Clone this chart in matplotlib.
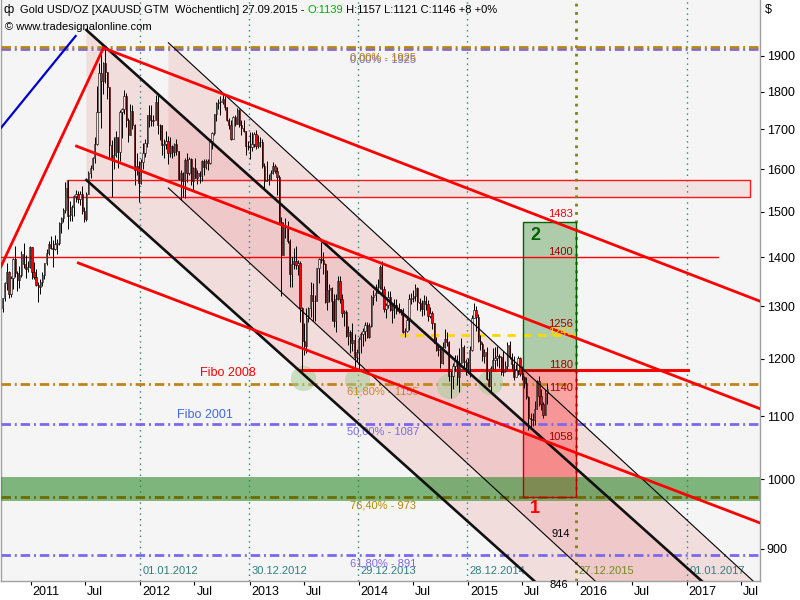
"""
    Gold weekly chart with channels and fibo levels
"""

import numpy as np
import pandas as pd
import matplotlib
matplotlib.use('AGG')
import matplotlib.pyplot as plt
import matplotlib.dates as mdates
import matplotlib.transforms as mtransforms
from matplotlib.patches import Rectangle

plt.rcParams['font.family'] = ['Liberation Sans', 'DejaVu Sans']

# weekly candles, first week starts 2010-09-27
first_week = '2010-09-27'
first_open = 1296

close_2010 = [1317, 1346, 1369, 1325, 1357, 1397, 1368, 1352, 1363, 1406, 1385, 1375, 1380, 1421]
high_2010 = [1317, 1349, 1387, 1372, 1360, 1398, 1424, 1371, 1381, 1413, 1431, 1405, 1392, 1424]
low_2010 = [1288, 1310, 1333, 1317, 1318, 1335, 1359, 1330, 1337, 1358, 1377, 1357, 1370, 1378]

close_2011 = [1369, 1359, 1343, 1339, 1349, 1362, 1387, 1410, 1429, 1420, 1418, 1428, 1430,
              1474, 1486, 1504, 1556, 1491, 1492, 1512, 1536, 1542, 1529, 1540, 1502, 1483,
              1541, 1592, 1602, 1627, 1663, 1744, 1852, 1828, 1880, 1855, 1813, 1660, 1624,
              1636, 1681, 1642, 1744, 1753, 1788, 1724, 1685, 1747, 1712, 1598, 1607, 1566]
high_2011 = [1423, 1391, 1376, 1348, 1354, 1370, 1389, 1418, 1436, 1445, 1437, 1448, 1440,
             1476, 1488, 1508, 1569, 1575, 1524, 1515, 1538, 1550, 1549, 1547, 1560, 1510,
             1545, 1595, 1610, 1630, 1681, 1814, 1880, 1912, 1882, 1921, 1844, 1813, 1672,
             1681, 1695, 1681, 1750, 1756, 1803, 1796, 1730, 1765, 1763, 1714, 1640, 1621]
low_2011 = [1354, 1354, 1340, 1309, 1325, 1340, 1355, 1383, 1404, 1417, 1380, 1416, 1407,
            1427, 1452, 1478, 1497, 1462, 1480, 1479, 1490, 1522, 1520, 1516, 1495, 1478,
            1480, 1540, 1580, 1598, 1614, 1660, 1744, 1703, 1793, 1823, 1779, 1627, 1534,
            1600, 1631, 1603, 1620, 1678, 1740, 1705, 1667, 1684, 1700, 1563, 1586, 1523]

close_2012 = [1617, 1640, 1664, 1736, 1724, 1722, 1725, 1772, 1710, 1711, 1659, 1662, 1669,
              1640, 1658, 1642, 1663, 1645, 1577, 1590, 1572, 1622, 1591, 1625, 1572, 1604,
              1579, 1590, 1584, 1619, 1606, 1620, 1615, 1670, 1691, 1740, 1769, 1773, 1773,
              1781, 1757, 1724, 1712, 1676, 1731, 1714, 1751, 1711, 1702, 1696, 1657, 1657, 1656]
high_2012 = [1625, 1666, 1676, 1736, 1764, 1763, 1737, 1790, 1792, 1713, 1712, 1674, 1696,
             1683, 1679, 1660, 1666, 1676, 1645, 1597, 1594, 1627, 1641, 1630, 1628, 1605,
             1628, 1598, 1596, 1622, 1625, 1624, 1626, 1674, 1693, 1741, 1772, 1779, 1787,
             1796, 1788, 1755, 1729, 1725, 1735, 1737, 1755, 1754, 1723, 1723, 1696, 1670, 1693]
low_2012 = [1565, 1600, 1631, 1655, 1707, 1708, 1709, 1723, 1688, 1672, 1636, 1627, 1651,
            1612, 1630, 1627, 1633, 1635, 1575, 1527, 1533, 1532, 1570, 1586, 1562, 1547,
            1578, 1565, 1568, 1572, 1587, 1600, 1598, 1613, 1651, 1685, 1722, 1753, 1738,
            1765, 1750, 1721, 1701, 1672, 1675, 1708, 1714, 1705, 1685, 1692, 1636, 1647, 1626]

close_2013 = [1662, 1687, 1658, 1667, 1667, 1609, 1572, 1573, 1577, 1592, 1608, 1596, 1581,
              1476, 1405, 1467, 1469, 1435, 1364, 1386, 1392, 1383, 1387, 1297, 1234, 1223,
              1277, 1296, 1322, 1310, 1311, 1377, 1396, 1395, 1386, 1308, 1333, 1337, 1310,
              1272, 1315, 1351, 1314, 1287, 1288, 1243, 1250, 1230, 1235, 1203, 1213, 1237]
high_2013 = [1693, 1694, 1697, 1684, 1681, 1674, 1616, 1619, 1588, 1597, 1617, 1612, 1605,
             1587, 1489, 1477, 1487, 1479, 1440, 1400, 1419, 1424, 1395, 1392, 1298, 1267,
             1297, 1299, 1349, 1347, 1323, 1377, 1398, 1433, 1412, 1387, 1374, 1345, 1338,
             1325, 1324, 1361, 1361, 1325, 1292, 1292, 1262, 1254, 1267, 1247, 1218, 1240]
low_2013 = [1644, 1656, 1650, 1652, 1655, 1604, 1554, 1571, 1562, 1575, 1588, 1590, 1539,
            1476, 1321, 1411, 1442, 1430, 1339, 1338, 1375, 1375, 1363, 1269, 1180, 1207,
            1211, 1270, 1279, 1271, 1271, 1310, 1347, 1389, 1364, 1306, 1293, 1309, 1272,
            1260, 1251, 1313, 1306, 1278, 1261, 1241, 1225, 1211, 1215, 1186, 1194, 1182]

close_2014 = [1247, 1252, 1264, 1240, 1262, 1318, 1322, 1326, 1338, 1379, 1335, 1294, 1303,
              1318, 1293, 1302, 1302, 1290, 1294, 1292, 1250, 1252, 1274, 1315, 1316, 1320,
              1337, 1309, 1307, 1295, 1311, 1305, 1280, 1287, 1267, 1230, 1216, 1218, 1192,
              1222, 1237, 1231, 1170, 1169, 1187, 1196, 1167, 1192, 1222, 1195, 1195, 1184]
high_2014 = [1251, 1257, 1270, 1270, 1268, 1322, 1332, 1345, 1355, 1384, 1392, 1340, 1306,
             1330, 1331, 1305, 1315, 1315, 1306, 1295, 1296, 1257, 1277, 1325, 1326, 1332,
             1345, 1339, 1317, 1312, 1322, 1320, 1312, 1298, 1290, 1267, 1240, 1228, 1221,
             1232, 1255, 1251, 1233, 1178, 1192, 1208, 1207, 1221, 1239, 1225, 1200, 1202]
low_2014 = [1211, 1224, 1233, 1239, 1238, 1259, 1303, 1311, 1328, 1334, 1322, 1288, 1277,
            1296, 1291, 1268, 1277, 1284, 1287, 1283, 1249, 1240, 1250, 1254, 1305, 1309,
            1310, 1292, 1290, 1281, 1283, 1292, 1272, 1276, 1255, 1229, 1215, 1205, 1183,
            1191, 1221, 1224, 1161, 1131, 1146, 1179, 1153, 1142, 1192, 1186, 1171, 1178]

close_2015 = [1216, 1277, 1293, 1279, 1234, 1227, 1205, 1213, 1164, 1152, 1183, 1199, 1201,
              1206, 1203, 1177, 1179, 1188, 1225, 1204, 1190, 1168, 1180, 1201, 1173, 1168,
              1157, 1132, 1097, 1095, 1094, 1113, 1160, 1134, 1121, 1103, 1139, 1146]
high_2015 = [1224, 1283, 1307, 1300, 1284, 1245, 1231, 1219, 1222, 1178, 1188, 1220, 1222,
             1224, 1209, 1205, 1215, 1196, 1232, 1233, 1210, 1205, 1191, 1205, 1203, 1187,
             1170, 1167, 1134, 1105, 1105, 1126, 1163, 1170, 1147, 1125, 1144, 1157]
low_2015 = [1167, 1214, 1276, 1252, 1231, 1216, 1197, 1193, 1162, 1150, 1142, 1178, 1178,
            1188, 1183, 1172, 1170, 1177, 1182, 1200, 1181, 1162, 1171, 1171, 1169, 1162,
            1148, 1130, 1077, 1080, 1084, 1086, 1112, 1117, 1110, 1098, 1102, 1121]

# drawing tools (date, price)
ch1_dates = ['2011-07-06', '2017-09-02']
ch1_upper = [1976, 792]
ch1_lower = [1574, 631]
ch2_dates = ['2012-04-05', '2017-09-02']
ch2_upper = [1938, 849]
ch2_lower = [1555, 681]

red_upper = (['2011-09-01', '2017-09-02'], [1923, 1310])
red_middle = (['2011-06-03', '2017-09-02'], [1657, 1113])
red_lower = (['2011-06-09', '2017-09-02'], [1388, 936])
red_rally = (['2010-09-23', '2011-09-01'], [1380, 1923])
blue_rally = (['2010-09-23', '2011-05-31'], [1703, 1958])

line_1400 = (['2010-09-23', '2017-04-15'], 1400)
fibo_2008 = (['2013-06-20', '2017-01-04'], 1180)
yellow_1245 = (['2014-05-19', '2015-12-31'], 1245)
zone_dates = ['2011-05-01', '2017-07-30']
zone_prices = [1534, 1574]
green_band = [967, 1003]

box_dates = ['2015-07-04', '2015-12-27']
box2_prices = [1180, 1478]
box1_prices = [973, 1180]

circle_dates = ['2013-06-30', '2013-12-27', '2014-10-30', '2015-03-16']
circle_prices = [1166, 1163, 1152, 1159]

fib_levels = [1925, 1155, 1087, 973, 891]
fib_colors = ['#b8860b', '#c08418', '#7b68ee', '#6b6b00', '#7b68ee']
fib_texts = ['0,00% - 1925', '61,80% - 1155', '50,00% - 1087', '76,40% - 973', '61,80% - 891']
fib_text_colors = ['#b8860b', '#c8862b', '#7b68ee', '#b8860b', '#7b68ee']

box_levels = [1483, 1400, 1256, 1240, 1180, 1140, 1058]
box_level_colors = ['#ff0000', '#a00000', '#a00000', '#ffd700', '#a00000', '#a00000', '#a00000']

vline_dates = ['2012-01-01', '2012-12-30', '2013-12-29', '2014-12-28', '2015-12-27', '2017-01-01']
vline_texts = ['01.01.2012', '30.12.2012', '29.12.2013', '28.12.2014', '27.12.2015', '01.01.2017']

xtick_dates = ['2011-01-01', '2011-07-01', '2012-01-01', '2012-07-01', '2013-01-01', '2013-07-01',
               '2014-01-01', '2014-07-01', '2015-01-01', '2015-07-01', '2016-01-01', '2016-07-01',
               '2017-01-01', '2017-07-01']
xtick_labels = ['2011', 'Jul', '2012', 'Jul', '2013', 'Jul', '2014', 'Jul', '2015', 'Jul',
                '2016', 'Jul', '2017', 'Jul']
yticks = [900, 1000, 1100, 1200, 1300, 1400, 1500, 1600, 1700, 1800, 1900]


def dn(s):
    return mdates.date2num(pd.Timestamp(s))


def dns(lst):
    return [dn(s) for s in lst]


def main():
    closes = np.array(close_2010 + close_2011 + close_2012 + close_2013 + close_2014 + close_2015, float)
    highs = np.array(high_2010 + high_2011 + high_2012 + high_2013 + high_2014 + high_2015, float)
    lows = np.array(low_2010 + low_2011 + low_2012 + low_2013 + low_2014 + low_2015, float)
    opens = np.concatenate([[first_open], closes[:-1]])
    highs = np.maximum(highs, np.maximum(opens, closes))
    lows = np.minimum(lows, np.minimum(opens, closes))
    weeks = pd.date_range(first_week, periods=len(closes), freq='7D') + pd.Timedelta(days=2)
    xw = mdates.date2num(weeks.to_pydatetime())

    fig = plt.figure(figsize=(8, 6), dpi=100)
    fig.patch.set_facecolor('white')
    ax = fig.add_axes([0.001, 19 / 600, 759 / 800, 581 / 600])
    ax.set_facecolor('#f5f5f5')
    ax.set_yscale('log')
    ax.set_xlim(dn('2010-09-23'), dn('2017-09-02'))
    ax.set_ylim(857, 2068)

    # channels
    ax.fill_between(dns(ch1_dates), ch1_lower, ch1_upper, color='#e05050', alpha=0.14, lw=0, zorder=1)
    ax.fill_between(dns(ch2_dates), ch2_lower, ch2_upper, color='#e05050', alpha=0.14, lw=0, zorder=1)

    # resistance zone
    zx = dns(zone_dates)
    ax.add_patch(Rectangle((zx[0], zone_prices[0]), zx[1] - zx[0], zone_prices[1] - zone_prices[0],
                           facecolor='#f3e0e0', edgecolor='#ff0000', lw=1, alpha=0.9, zorder=2))

    # target boxes
    bx = dns(box_dates)
    ax.add_patch(Rectangle((bx[0], box2_prices[0]), bx[1] - bx[0], box2_prices[1] - box2_prices[0],
                           facecolor='#5a9a50', edgecolor='none', alpha=0.45, zorder=2))
    ax.add_patch(Rectangle((bx[0], box2_prices[0]), bx[1] - bx[0], box2_prices[1] - box2_prices[0],
                           facecolor='none', edgecolor='#006400', lw=1, zorder=6))
    ax.add_patch(Rectangle((bx[0], box1_prices[0]), bx[1] - bx[0], box1_prices[1] - box1_prices[0],
                           facecolor='#ff4040', edgecolor='none', alpha=0.45, zorder=2))
    ax.add_patch(Rectangle((bx[0], box1_prices[0]), bx[1] - bx[0], box1_prices[1] - box1_prices[0],
                           facecolor='none', edgecolor='#c00000', lw=1, zorder=6))

    ax.axhspan(green_band[0], green_band[1], color='#2e8b2e', alpha=0.6, lw=0, zorder=3)

    # vertical date lines
    for d, t in zip(vline_dates, vline_texts):
        olive = t == '27.12.2015'
        c = '#808020' if olive else '#2f7f7f'
        ax.axvline(dn(d), color=c, lw=2 if olive else 1, ls=(0, (1, 3)) if not olive else (0, (1, 2)), zorder=2)
        ax.text(dn(d), 0.017, t, transform=mtransforms.offset_copy(
                    ax.get_xaxis_transform(), fig=fig, x=3, y=0, units='dots'),
                color='#6b8e23' if olive else '#2f7f7f', fontsize=8, va='center', ha='left', zorder=7)

    # fibo levels
    dd = (0, (3.4, 1.4, 0.7, 1.4))
    for lvl, c in zip(fib_levels, fib_colors):
        if lvl == 1925:
            ax.plot([0, 1], [lvl, lvl], color='#7b68ee', lw=2, ls=dd, zorder=3,
                    transform=mtransforms.offset_copy(ax.get_yaxis_transform(), fig=fig,
                                                      x=0, y=-2, units='dots'))
        ax.axhline(lvl, color=c, lw=2, ls=dd, zorder=3)
    for lvl, t, c in zip(fib_levels, fib_texts, fib_text_colors):
        xd = dn('2013-12-04') if lvl in (1925, 973, 891) else dn('2013-11-24')
        off = -4 if lvl == 1925 else -2
        if lvl == 1925:
            ax.annotate(t, (xd, lvl), xytext=(-0.5, off - 1), textcoords='offset points',
                        color='#7b68ee', fontsize=8, va='top', ha='left', zorder=7)
        ax.annotate(t, (xd, lvl), xytext=(0, off), textcoords='offset points',
                    color=c, fontsize=8, va='top', ha='left', zorder=7)

    # horizontal lines
    ax.plot(dns(line_1400[0]), [line_1400[1]] * 2, color='#ff0000', lw=1, zorder=4)
    ax.plot(dns(fibo_2008[0]), [fibo_2008[1]] * 2, color='#ff0000', lw=2.2, zorder=5)
    ax.plot(dns(yellow_1245[0]), [yellow_1245[1]] * 2, color='#ffd700', lw=2, ls=(0, (3, 2.5)), zorder=5)

    # green circles
    ax.scatter(dns(circle_dates), circle_prices, s=330, color='#a8cc98', alpha=0.55, lw=0, zorder=4)

    # candles
    up = closes >= opens
    ax.vlines(xw, lows, highs, color='black', lw=0.7, zorder=5)
    ax.bar(xw[~up], (opens - closes)[~up], bottom=closes[~up], width=4.2, color='#ff0000',
           edgecolor='black', lw=0.4, zorder=6)
    ax.bar(xw[up], np.maximum(closes - opens, 0.5)[up], bottom=opens[up], width=4.2, color='#f8e0e0',
           edgecolor='black', lw=0.4, zorder=6)

    # channel lines
    ax.plot(dns(ch1_dates), ch1_upper, color='#101010', lw=1.9, zorder=7)
    ax.plot(dns(ch1_dates), ch1_lower, color='#101010', lw=1.9, zorder=7)
    ax.plot(dns(ch2_dates), ch2_upper, color='black', lw=0.8, zorder=7)
    ax.plot(dns(ch2_dates), ch2_lower, color='black', lw=0.8, zorder=7)

    for d, p in (red_upper, red_middle, red_lower, red_rally):
        ax.plot(dns(d), p, color='#ff0000', lw=2, zorder=7)
    ax.plot(dns(blue_rally[0]), blue_rally[1], color='#0000cd', lw=1.6, zorder=7)

    # labels in boxes
    for lvl, c in zip(box_levels, box_level_colors):
        ax.annotate(str(lvl), (bx[1], lvl), xytext=(-2, 0), textcoords='offset points',
                    color=c, fontsize=8, ha='right', va='bottom', zorder=8)
    ax.annotate('914', (dn('2015-12-08'), 914), xytext=(0, 0), textcoords='offset points',
                color='black', fontsize=8, ha='right', va='bottom', zorder=8)
    ax.annotate('846', (dn('2015-11-30'), 846), xytext=(0, 0), textcoords='offset points',
                color='black', fontsize=8, ha='right', va='bottom', zorder=8, annotation_clip=False)
    ax.text(dn('2015-07-27'), 1447, '2', color='#006400', fontsize=13, fontweight='bold',
            ha='left', va='center', zorder=8)
    ax.text(dn('2015-07-27'), 956, '1', color='#ff0000', fontsize=13, fontweight='bold',
            ha='left', va='center', zorder=8)
    ax.text(dn('2012-07-21'), 1175, 'Fibo 2008', color='#ff0000', fontsize=9, va='center', zorder=8)
    ax.text(dn('2012-05-05'), 1103, 'Fibo 2001', color='#4169e1', fontsize=9, va='center', zorder=8)

    # axes
    ax.yaxis.tick_right()
    ax.set_yticks(yticks)
    ax.set_yticklabels([str(v) for v in yticks])
    ax.yaxis.set_minor_locator(matplotlib.ticker.NullLocator())
    ax.tick_params(axis='y', direction='out', length=3, pad=2, labelsize=9, colors='black')
    ax.set_xticks(dns(xtick_dates))
    ax.set_xticklabels([])
    ax.xaxis.set_minor_locator(matplotlib.ticker.NullLocator())
    ax.tick_params(axis='x', direction='out', length=3, colors='black')
    lbl_tr = mtransforms.offset_copy(ax.get_xaxis_transform(), fig=fig, x=2, y=-5, units='dots')
    for d, t in zip(xtick_dates, xtick_labels):
        ax.text(dn(d), 0, t, transform=lbl_tr, fontsize=9, ha='left', va='top', clip_on=False)
    for s in ax.spines.values():
        s.set_color('#a0a0a0')
        s.set_linewidth(1)
    ax.spines['top'].set_visible(False)

    fig.text(765 / 800, 1 - 10 / 600, '$', fontsize=9, va='center', ha='left')

    # header
    fig.canvas.draw()
    r = fig.canvas.get_renderer()
    parts = [('Gold USD/OZ [XAUUSD GTM  Wöchentlich] 27.09.2015 - ', 'black'),
             ('O:1139', '#00b000'),
             (' H:1157 L:1121 C:1146 +8 +0%', 'black')]
    x = 20
    for t, c in parts:
        tx = fig.text(x / 800, 1 - 10 / 600, t, color=c, fontsize=8, va='center', ha='left')
        x += tx.get_window_extent(r).width
    fig.text(3 / 800, 1 - 10 / 600, 'ф', fontsize=9, va='center', ha='left')
    fig.text(5 / 800, 1 - 27 / 600, '© www.tradesignalonline.com', fontsize=8, va='center', ha='left')

    fig.savefig('out.png', dpi=100)


if __name__ == '__main__':
    main()
